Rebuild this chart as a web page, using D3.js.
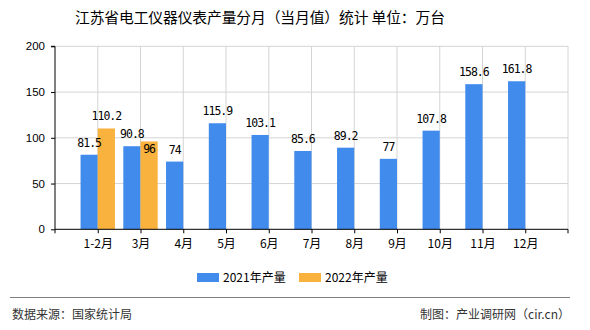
<!DOCTYPE html>
<html><head><meta charset="utf-8">
<script src="https://cdn.jsdelivr.net/npm/d3@7"></script>
<style>
html,body{margin:0;padding:0;background:#fff;}
svg{display:block;}
</style></head>
<body>
<svg id="chart" width="590" height="330"></svg>
<script>
const categories = ["1-2月","3月","4月","5月","6月","7月","8月","9月","10月","11月","12月"];
const values2021 = [81.5, 90.8, 74, 115.9, 103.1, 85.6, 89.2, 77, 107.8, 158.6, 161.8];
const values2022 = [110.2, 96, null, null, null, null, null, null, null, null, null];
const seriesNames = ["2021年产量", "2022年产量"];
const yTicks = [0, 50, 100, 150, 200];
const titleText = "江苏省电工仪器仪表产量分月（当月值）统计 单位：万台";
const sourceText = "数据来源：国家统计局";
const creditText = "制图：产业调研网（cir.cn）";

const colors = ["#418BED", "#FAB23F"];
const cjk = "'Noto Sans CJK SC', 'Noto Sans', sans-serif";
const svg = d3.select("#chart");
const L = 55, R = 568, T = 46.3, B = 229.3;
const step = (R - L) / (categories.length + 1);
const x = d3.scalePoint().domain(categories).range([L + step, R - step]);
const y = d3.scaleLinear().domain([0, 200]).range([B, T]);
const barW = 17.2;

// title
svg.append("text").attr("x", 75).attr("y", 23).attr("font-family", cjk)
  .attr("font-size", 14.8).attr("fill", "#000").attr("textLength", 370)
  .attr("lengthAdjust", "spacing").text(titleText);

// grid
const g = svg.append("g");
g.selectAll("line.h").data(yTicks.filter(d => d > 0)).join("line")
  .attr("x1", L).attr("x2", R).attr("y1", d => y(d)).attr("y2", d => y(d))
  .attr("stroke", "#d4d4d4").attr("stroke-width", 1);
g.selectAll("line.v").data(categories).join("line")
  .attr("x1", d => x(d)).attr("x2", d => x(d)).attr("y1", T).attr("y2", B)
  .attr("stroke", "#d4d4d4").attr("stroke-width", 1);
g.append("line").attr("x1", R).attr("x2", R).attr("y1", T).attr("y2", B)
  .attr("stroke", "#d4d4d4");

// bars
const series = [values2021, values2022];
const offsets = [-barW, 0];
series.forEach((vals, si) => {
  svg.append("g").selectAll("rect").data(categories.map((c, i) => ({c, v: vals[i]})).filter(d => d.v != null))
    .join("rect")
    .attr("x", d => x(d.c) + offsets[si])
    .attr("y", d => y(d.v))
    .attr("width", barW)
    .attr("height", d => B - y(d.v))
    .attr("fill", colors[si]);
});

// axes
const yAxis = d3.axisLeft(y).tickValues(yTicks).tickSize(4).tickPadding(6).tickFormat(d3.format("d"));
const ya = svg.append("g").attr("transform", `translate(${L},0)`).call(yAxis);
ya.select(".domain").attr("d", `M-4,${T}H0V${B}`).attr("stroke", "#000");
ya.selectAll("text").attr("font-family", "'Liberation Sans', sans-serif").attr("font-size", 11.5).attr("fill", "#000");

const xa = svg.append("g").attr("transform", `translate(0,${B})`)
  .call(d3.axisBottom(x).tickSize(4).tickPadding(6));
xa.select(".domain").attr("d", `M${L},4V0H${R}V4`).attr("stroke", "#000");
xa.selectAll("text").attr("font-family", cjk).attr("font-size", 12).attr("fill", "#000").attr("dy", "0.75em");

// value labels with simple collision avoidance
const boxes = [];
const labelFont = "'DejaVu Sans Mono', monospace";
series.forEach((vals, si) => {
  categories.forEach((c, i) => {
    const v = vals[i];
    if (v == null) return;
    const t = String(v);
    const w = t.length * 5.7;
    const cx = x(c) + offsets[si] + barW / 2;
    let cy = y(v) - 12;
    const overlaps = b => !(cx + w / 2 + 2 < b.x0 || cx - w / 2 - 2 > b.x1 || cy + 6 < b.y0 || cy - 6 > b.y1);
    if (boxes.some(overlaps)) cy = y(v) + 8;
    boxes.push({x0: cx - w / 2, x1: cx + w / 2, y0: cy - 6, y1: cy + 6});
    svg.append("text").attr("x", cx).attr("y", cy).attr("dy", "0.35em")
      .attr("text-anchor", "middle").attr("font-family", labelFont)
      .attr("font-size", 11.5).attr("letter-spacing", -1).attr("fill", "#000").text(t);
  });
});

// legend
const legX = [197, 299];
seriesNames.forEach((n, i) => {
  svg.append("rect").attr("x", legX[i]).attr("y", 273).attr("width", 22).attr("height", 9).attr("fill", colors[i]);
  svg.append("text").attr("x", legX[i] + 26).attr("y", 277.5).attr("dy", "0.35em")
    .attr("font-family", cjk).attr("font-size", 12).attr("fill", "#000").text(n);
});

// footer
svg.append("line").attr("x1", 10).attr("x2", 570).attr("y1", 297.5).attr("y2", 297.5)
  .attr("stroke", "#808080").attr("stroke-width", 1);
svg.append("text").attr("x", 12).attr("y", 315).attr("dy", "0.35em")
  .attr("font-family", cjk).attr("font-size", 12).attr("fill", "#333").text(sourceText);
svg.append("text").attr("x", 570).attr("y", 315).attr("dy", "0.35em").attr("text-anchor", "end")
  .attr("font-family", cjk).attr("font-size", 12).attr("fill", "#333").text(creditText);
</script>
</body></html>
